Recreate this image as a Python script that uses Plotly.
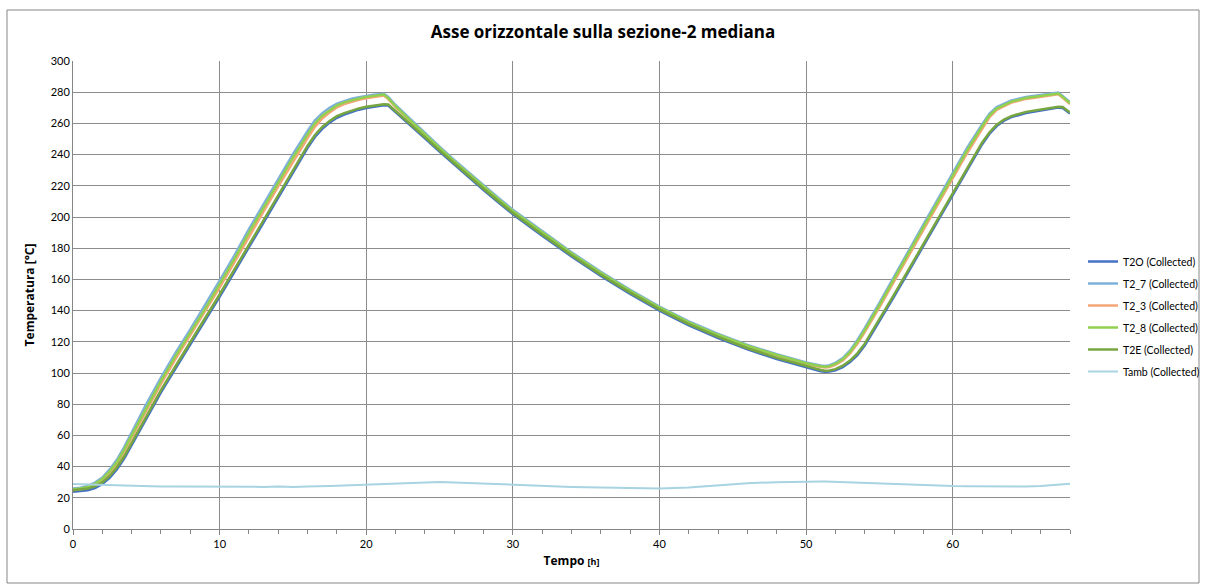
import plotly.graph_objects as go

# Time axis [h]
tempo = [0, 0.5, 1, 1.5, 2, 2.5, 3, 3.5, 4,
         5, 6, 7, 8, 9, 10, 11, 12, 13, 14, 15, 16,
         16.5, 17, 17.5, 18, 18.5, 19, 19.5, 20, 20.5, 21, 21.2, 21.5,
         22, 23, 24, 25, 26, 27, 28, 29, 30,
         32, 34, 36, 38, 40, 42, 44, 46, 48, 50,
         51, 51.3, 51.6, 52, 52.5, 53, 53.5, 54,
         55, 56, 57, 58, 59, 60, 61, 62,
         62.5, 63, 63.5, 64, 65, 66, 67, 67.2, 67.5, 68]

t2o = [23.8, 24.1, 24.8, 26.3, 28.8, 32.8, 38.3, 45.3, 53.6,
       70.6, 87.6, 103, 118, 133, 148.8, 164.7, 180.7, 196.9, 213, 229, 244.3,
       251.3, 256.5, 260.5, 263.6, 265.7, 267.4, 268.8, 269.9, 270.8, 271.3, 271.6, 271.4,
       267.3, 259, 250.4, 241.9, 233.5, 225.3, 217.3, 209.5, 201.8,
       188, 174.7, 162.2, 150.7, 140, 130.5, 122.3, 115.1, 108.9, 103.4,
       101.1, 100.8, 100.9, 101.8, 103.8, 107, 111.5, 117.6,
       133, 149, 165.2, 181.6, 198, 214.4, 230.8, 246.5,
       253.2, 258.3, 261.7, 264, 266.7, 268.4, 269.8, 270.1, 269.9, 266.3]

t2_7 = [26, 26.5, 27.6, 29.8, 33, 38.2, 44.5, 52.6, 61.8,
        80, 97, 113, 128, 143.2, 159.2, 175.3, 192.3, 208.3, 224.4, 240.3, 255.2,
        262, 266.6, 270, 272.6, 274.4, 275.8, 276.8, 277.7, 278.3, 278.8, 279.1, 276.9,
        271.8, 262.9, 253.9, 245.1, 236.6, 228.3, 220.2, 212.3, 204.6,
        190.8, 177.4, 164.9, 153.3, 142.6, 133.1, 125.1, 118, 112, 106.8,
        104.8, 104.5, 105, 106.5, 109.6, 114.5, 121.2, 128.8,
        145, 162, 178.6, 195.2, 211.7, 228.2, 244.6, 259.4,
        266.2, 270.4, 272.8, 274.7, 276.9, 278.4, 279.6, 279.8, 277.6, 273.6]

t2_3 = [25, 25.5, 26.5, 28.4, 31.2, 36, 41.8, 49.6, 58.4,
        76.2, 93, 109, 124, 139, 154.8, 170.8, 187.6, 203.6, 219.6, 235.5, 250.6,
        257.8, 263.2, 267, 270.2, 272.4, 274, 275.1, 276.1, 276.8, 277.3, 277.8, 275.6,
        270.4, 261.4, 252.4, 243.7, 235.2, 226.9, 218.8, 210.9, 203.2,
        189.4, 176.1, 163.6, 152.1, 141.4, 131.9, 124, 117, 111, 105.8,
        103.8, 103.5, 103.9, 105.2, 108, 112.5, 118.8, 126.2,
        142, 158.8, 175.3, 191.8, 208.2, 224.7, 241.2, 256.4,
        263.8, 268.6, 271.2, 273.3, 275.7, 277.2, 278.4, 278.6, 276.4, 272.4]

t2_8 = [25.5, 26, 27, 29, 32, 37, 43, 51, 60,
        78, 95, 111, 126, 141, 157, 173, 190, 206, 222, 238, 253,
        260, 265, 268.5, 271.5, 273.5, 275, 276, 277, 277.6, 278.1, 278.5, 276.2,
        271, 262, 253, 244.3, 235.8, 227.5, 219.4, 211.5, 203.8,
        190, 176.7, 164.2, 152.7, 142, 132.5, 124.5, 117.5, 111.5, 106.3,
        104.3, 104, 104.4, 105.8, 108.8, 113.5, 120, 127.5,
        143.5, 160.5, 177, 193.5, 210, 226.5, 243, 258,
        265, 269.5, 272, 274, 276.3, 277.8, 279, 279.2, 277, 273]

t2e = [24.8, 25.2, 25.9, 27.4, 29.9, 34, 39.6, 46.6, 55,
       72, 89, 104.5, 119.5, 134.5, 150.3, 166.2, 182.2, 198.4, 214.5, 230.5, 245.7,
       252.6, 257.7, 261.6, 264.6, 266.6, 268.3, 269.6, 270.7, 271.5, 272, 272.3, 272.1,
       268, 259.8, 251.2, 242.7, 234.3, 226.1, 218.1, 210.3, 202.6,
       188.8, 175.5, 163, 151.5, 140.8, 131.3, 123.1, 115.9, 109.7, 104.2,
       101.9, 101.5, 101.6, 102.5, 104.7, 108, 112.6, 118.8,
       134.2, 150.2, 166.4, 182.8, 199.2, 215.6, 232, 247.6,
       254.2, 259.2, 262.5, 264.7, 267.4, 269.1, 270.4, 270.7, 270.5, 267]

tamb = [28.8, 28.6, 28.5, 28.4, 28.3, 28.2, 28, 27.9, 27.7,
        27.5, 27.3, 27.2, 27.1, 27, 27, 27, 26.9, 27, 27.2, 27, 27.3,
        27.3, 27.5, 27.6, 27.8, 28, 28.2, 28.4, 28.6, 28.8, 28.9, 29, 29,
        29.1, 29.5, 30, 30.2, 29.8, 29.4, 29, 28.6, 28.2,
        27.6, 27, 26.6, 26.3, 25.9, 26.6, 28.2, 29.4, 30, 30.6,
        30.5, 30.4, 30.3, 30.2, 30, 29.8, 29.6, 29.4,
        29, 28.6, 28.2, 27.8, 27.6, 27.5, 27.4, 27.3,
        27.3, 27.2, 27.2, 27.2, 27.3, 27.6, 28.3, 28.5, 28.8, 29]

series = [
    ("T2O (Collected)", t2o, "#4472C4", 2.5),
    ("T2_7 (Collected)", t2_7, "#7DB0DA", 2.5),
    ("T2_3 (Collected)", t2_3, "#F5A677", 2.5),
    ("T2_8 (Collected)", t2_8, "#92D050", 2.5),
    ("T2E (Collected)", t2e, "#77A640", 2.5),
    ("Tamb (Collected)", tamb, "#A8D3E0", 2),
]

FONT = "Lato, 'Open Sans', sans-serif"
BOLD = "'Open Sans', sans-serif"

fig = go.Figure()
for i, (name, vals, color, w) in enumerate(series):
    fig.add_trace(go.Scatter(
        x=tempo, y=vals, mode="lines", name=name,
        line=dict(color=color, width=w),
        legendgroup=f"g{i}",
    ))

fig.update_layout(
    width=1206, height=584,
    margin=dict(l=73, r=136, t=61, b=55, autoexpand=False),
    paper_bgcolor="white", plot_bgcolor="white",
    font=dict(family=FONT, size=11, color="#000000"),
    title=dict(text="<b>Asse orizzontale sulla sezione-2 mediana</b>",
               x=0.5, xanchor="center", xref="container",
               y=1 - 32 / 584, yanchor="middle", yref="container",
               font=dict(family=BOLD, size=17, color="#000000")),
    showlegend=True,
    legend=dict(xref="container", yref="container",
                x=1083 / 1206, xanchor="left", y=1 - 316.5 / 584, yanchor="middle",
                font=dict(family=FONT, size=10.5), traceorder="grouped",
                tracegroupgap=3, bgcolor="rgba(0,0,0,0)"),
    shapes=[dict(type="rect", xref="paper", yref="paper",
                 x0=-0.0662, x1=1.1294, y0=-0.1154, y1=1.109,
                 line=dict(color="#868686", width=1), layer="below")],
)

fig.update_xaxes(
    range=[0, 68], dtick=10, tick0=0,
    showgrid=True, gridcolor="#8C8C8C", gridwidth=1,
    showline=True, linecolor="#868686", linewidth=1,
    ticks="outside", ticklen=5, tickcolor="#868686",
    minor=dict(dtick=2, ticks="outside", ticklen=4, tickcolor="#868686", showgrid=False),
    zeroline=False,
    title=dict(text="<b>Tempo <span style='font-size:9px'>[h]</span></b>",
               font=dict(family=BOLD, size=12), standoff=7),
)
fig.update_yaxes(
    range=[0, 300], dtick=20, tick0=0,
    showgrid=True, gridcolor="#8C8C8C", gridwidth=1,
    showline=True, linecolor="#868686", linewidth=1,
    ticks="", zeroline=False,
    title=dict(text="<b>Temperatura [°C]</b>",
               font=dict(family=BOLD, size=12), standoff=13),
)

fig.write_html("out.html")
